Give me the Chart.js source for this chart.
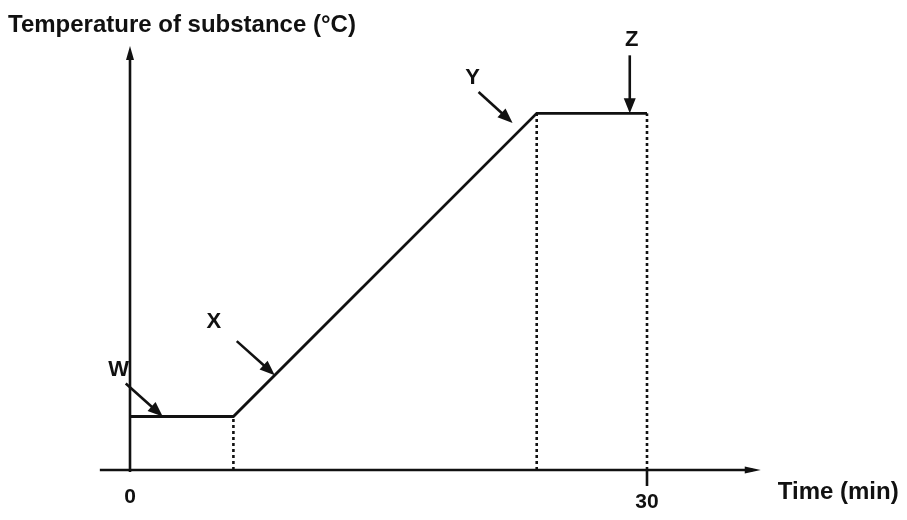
<!DOCTYPE html>
<html>
<head>
<meta charset="utf-8">
<title>Heating curve</title>
<script src="https://cdn.jsdelivr.net/npm/chart.js@4.4.1/dist/chart.umd.min.js"></script>
<style>
  html, body { margin: 0; padding: 0; background: #fff; }
  #wrap { width: 907px; height: 520px; }
</style>
</head>
<body>
<div id="wrap"><canvas id="c" width="907" height="520"></canvas></div>
<script>
// Heating curve: time (min) against temperature of the substance
const timeMin = [0, 6, 23.6, 30];
const tempC   = [15, 15, 100, 100];

// dotted drop lines from the corners of the curve down to the time axis
const dropTime = [6, 23.6, 30];
const dropTemp = [15, 100, 100];

// time axis tick labels
const tickValues = [0, 30];
const tickLabels = ['0', '30'];

// stage labels and the point on the curve each arrow points at
const stageLabels = ['W', 'X', 'Y', 'Z'];
const stageTime   = [1.9, 8.4, 22.2, 29.0];
const stageTemp   = [15, 26.6, 97.3, 100];

const yTitle = 'Temperature of substance (°C)';
const xTitle = 'Time (min)';

const INK = '#111';
const FONT = '"Liberation Sans", Arial, sans-serif';

// arrow tail and label placement relative to each arrow tip (pixels)
const stageArrow = [
  { tail: [-37, -33], label: [-44, -47] },
  { tail: [-38, -34], label: [-61, -53] },
  { tail: [-34, -31], label: [-40, -45] },
  { tail: [0, -58],   label: [2, -73] }
];

function arrowHead(ctx, x1, y1, x2, y2, len, half) {
  const a = Math.atan2(y2 - y1, x2 - x1);
  ctx.beginPath();
  ctx.moveTo(x2, y2);
  ctx.lineTo(x2 - len * Math.cos(a) + half * Math.sin(a), y2 - len * Math.sin(a) - half * Math.cos(a));
  ctx.lineTo(x2 - len * Math.cos(a) - half * Math.sin(a), y2 - len * Math.sin(a) + half * Math.cos(a));
  ctx.closePath();
  ctx.fill();
}

const sketchAxes = {
  id: 'sketchAxes',
  afterDatasetsDraw(chart) {
    const ctx = chart.ctx;
    const xs = chart.scales.x, ys = chart.scales.y;
    const x0 = xs.getPixelForValue(0);
    const y0 = ys.getPixelForValue(0);
    ctx.save();
    ctx.strokeStyle = INK;
    ctx.fillStyle = INK;
    ctx.lineWidth = 2.6;
    ctx.lineCap = 'butt';

    // time axis with arrow
    const xL = xs.getPixelForValue(-1.75), xR = xs.getPixelForValue(36.6);
    ctx.beginPath(); ctx.moveTo(xL, y0); ctx.lineTo(xR - 8, y0); ctx.stroke();
    arrowHead(ctx, xL, y0, xR, y0, 16, 3.5);

    // temperature axis with arrow
    const yT = ys.getPixelForValue(120) + 4;
    ctx.beginPath(); ctx.moveTo(x0, y0 + 2); ctx.lineTo(x0, yT + 8); ctx.stroke();
    arrowHead(ctx, x0, y0, x0, yT, 14, 4);

    // tick mark below the axis at the end time
    const x30 = xs.getPixelForValue(tickValues[1]);
    ctx.beginPath(); ctx.moveTo(x30, y0); ctx.lineTo(x30, y0 + 16); ctx.stroke();

    // tick labels
    ctx.font = 'bold 21px ' + FONT;
    ctx.textAlign = 'center';
    ctx.textBaseline = 'middle';
    tickValues.forEach((v, i) => {
      const off = v === 0 ? 27 : 32;
      ctx.fillText(tickLabels[i], xs.getPixelForValue(v), y0 + off);
    });

    // axis titles
    ctx.font = 'bold 24px ' + FONT;
    ctx.textAlign = 'left';
    ctx.fillText(xTitle, xR + 17, y0 + 22);
    ctx.fillText(yTitle, 8, 25);

    // stage labels with arrows
    ctx.font = 'bold 22px ' + FONT;
    ctx.textAlign = 'center';
    ctx.lineWidth = 2.6;
    stageLabels.forEach((s, i) => {
      const tx = xs.getPixelForValue(stageTime[i]);
      const ty = ys.getPixelForValue(stageTemp[i]);
      const g = stageArrow[i];
      const sx = tx + g.tail[0], sy = ty + g.tail[1];
      const a = Math.atan2(ty - sy, tx - sx);
      ctx.beginPath();
      ctx.moveTo(sx, sy);
      ctx.lineTo(tx - 8 * Math.cos(a), ty - 8 * Math.sin(a));
      ctx.stroke();
      arrowHead(ctx, sx, sy, tx, ty, 15, 6);
      ctx.fillText(s, tx + g.label[0], ty + g.label[1]);
    });
    ctx.restore();
  }
};

const curve = timeMin.map((t, i) => ({ x: t, y: tempC[i] }));
const drops = dropTime.map((t, i) => ({
  data: [{ x: t, y: 0 }, { x: t, y: dropTemp[i] }],
  borderColor: INK,
  borderWidth: 2.6,
  borderDash: [3, 3],
  pointRadius: 0,
  fill: false
}));

new Chart(document.getElementById('c'), {
  type: 'line',
  data: {
    datasets: [
      { data: curve, borderColor: INK, borderWidth: 2.8, pointRadius: 0, tension: 0, fill: false },
      ...drops
    ]
  },
  options: {
    responsive: false,
    animation: false,
    devicePixelRatio: 1,
    clip: false,
    layout: { padding: { left: 130, right: 260, top: 42, bottom: 50 } },
    plugins: { legend: { display: false }, tooltip: { enabled: false } },
    scales: {
      x: { type: 'linear', min: 0, max: 30, display: false },
      y: { type: 'linear', min: 0, max: 120, display: false }
    }
  },
  plugins: [sketchAxes]
});
</script>
</body>
</html>
